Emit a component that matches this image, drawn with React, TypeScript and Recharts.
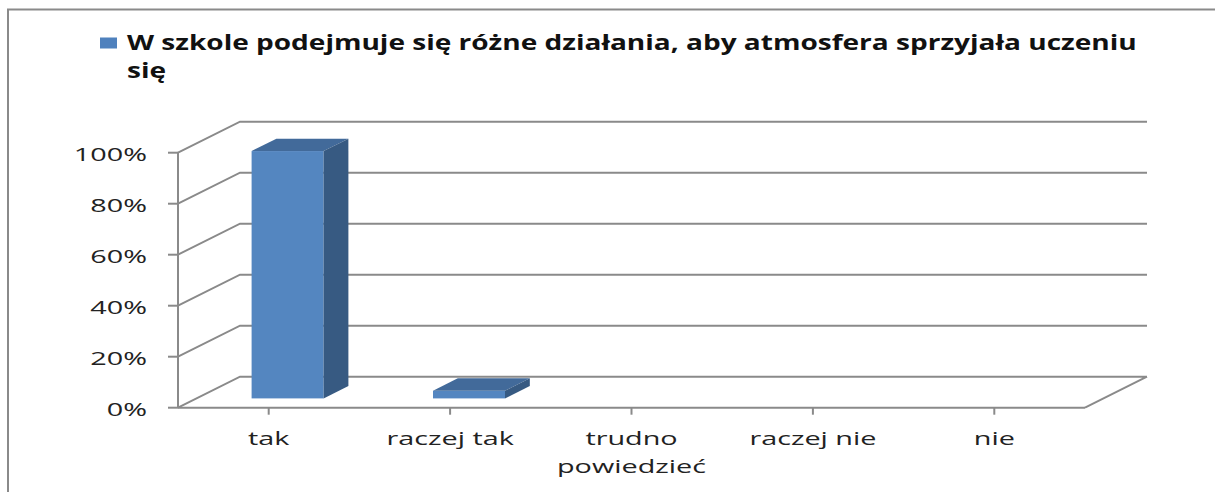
import React from 'react';
import { BarChart, Bar, XAxis, YAxis, CartesianGrid, Customized } from 'recharts';

const categories = ['tak', 'raczej tak', 'trudno powiedzieć', 'raczej nie', 'nie'];
const values = [97, 3, 0, 0, 0];
const yTicks = [0, 20, 40, 60, 80, 100];
const seriesName = 'W szkole podejmuje się różne działania, aby atmosfera sprzyjała uczeniu się';

const data = categories.map((label, i) => ({ label, value: values[i] }));

// 3d depth of the back wall
const DX = 62;
const DY = -31;
const W = 1215;
const H = 492;
const M_TOP = 152.7;
const X_H = 84.3;
const PLOT_BOTTOM = H - X_H;
const GRID = '#8a8a8a';
const FONT = '"Open Sans", "DejaVu Sans", sans-serif';
const SX = 1.6;
const LEGEND_SX = 1.335;

const GridLine = (props: any) => {
  const { x1, x2, y1 } = props;
  let d = `M${x1},${y1} L${x1 + DX},${y1 + DY} L${x2 + DX},${y1 + DY}`;
  if (Math.abs(y1 - PLOT_BOTTOM) < 1) d += ` M${x2},${y1} L${x2 + DX},${y1 + DY}`;
  return <path d={d} stroke={GRID} strokeWidth={2} fill="none" />;
};

const Bar3D = (props: any) => {
  const { x, y, width, height } = props;
  if (!height || height <= 0) return null;
  const fx = x + 0.3 * DX;
  const fy = y + 0.3 * DY;
  const ddx = 0.4 * DX;
  const ddy = 0.4 * DY;
  return (
    <g>
      <rect x={fx} y={fy} width={width} height={height} fill="#5486c0" />
      <polygon
        points={`${fx},${fy} ${fx + width},${fy} ${fx + width + ddx},${fy + ddy} ${fx + ddx},${fy + ddy}`}
        fill="#426a9a"
      />
      <polygon
        points={`${fx + width},${fy} ${fx + width + ddx},${fy + ddy} ${fx + width + ddx},${fy + height + ddy} ${fx + width},${fy + height}`}
        fill="#375a82"
      />
    </g>
  );
};

const YTick = ({ x, y, payload }: any) => (
  <text
    transform={`translate(${x},${y + 8}) scale(${SX},1)`}
    textAnchor="end"
    fontSize={18}
    fontFamily={FONT}
    fill="#222"
  >
    {`${payload.value}%`}
  </text>
);

const XTick = ({ x, y, payload }: any) => {
  const s: string = payload.value;
  const lines = s.length > 12 ? s.split(' ') : [s];
  return (
    <g>
      {lines.map((ln, i) => (
        <text
          key={i}
          transform={`translate(${x},${y + 30.3 + i * 28}) scale(${SX},1)`}
          textAnchor="middle"
          fontSize={18}
          fontFamily={FONT}
          fill="#222"
        >
          {ln}
        </text>
      ))}
    </g>
  );
};

const Frame = () => {
  const words = seriesName.split(' ');
  const line1 = words.slice(0, -1).join(' ');
  const line2 = words[words.length - 1];
  return (
    <g>
      <path d={`M8,${H} L8,9.5 L${W},9.5`} stroke="#8a8a8a" strokeWidth={2} fill="none" />
      <rect x={100} y={37.5} width={17} height={11} fill="#4f81bd" />
      <text
        transform={`translate(127,50) scale(${LEGEND_SX},1)`}
        fontSize={21}
        fontWeight="bold"
        fontFamily={FONT}
        fill="#111"
      >
        <tspan x={0} y={0}>{line1}</tspan>
        <tspan x={0} y={27.7}>{line2}</tspan>
      </text>
    </g>
  );
};

export default function App() {
  return (
    <div style={{ position: 'absolute', left: 0, top: 0, background: '#fff' }}>
      <BarChart width={W} height={H} data={data} margin={{ top: M_TOP, right: 130, left: 0, bottom: 0 }}>
        <Customized component={<Frame />} />
        <CartesianGrid vertical={false} horizontal={GridLine} stroke={GRID} />
        <XAxis
          dataKey="label"
          height={X_H}
          interval={0}
          tickSize={7}
          tickMargin={0}
          axisLine={{ stroke: GRID, strokeWidth: 2 }}
          tickLine={{ stroke: GRID, strokeWidth: 2 }}
          tick={<XTick />}
        />
        <YAxis
          width={178}
          domain={[0, 100]}
          ticks={yTicks}
          tickSize={10}
          tickMargin={21}
          axisLine={{ stroke: GRID, strokeWidth: 2 }}
          tickLine={{ stroke: GRID, strokeWidth: 2 }}
          tick={<YTick />}
        />
        <Bar dataKey="value" name={seriesName} barSize={72} shape={<Bar3D />} isAnimationActive={false} />
      </BarChart>
    </div>
  );
}
